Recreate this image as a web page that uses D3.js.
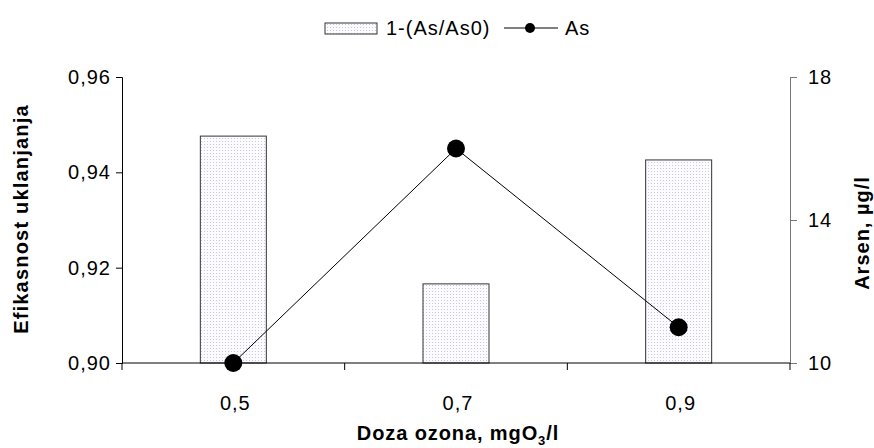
<!DOCTYPE html>
<html>
<head>
<meta charset="utf-8">
<script src="https://cdn.jsdelivr.net/npm/d3@7"></script>
<style>
  body { margin: 0; background: #fff; }
  text { font-family: "Liberation Sans", Arial, sans-serif; }
</style>
</head>
<body>
<svg></svg>
<script>
let w = 874;
let h = 448;

// data
var doses = ["0,5", "0,7", "0,9"];
var efficiency = [0.9476, 0.9166, 0.9426];
var arsenic = [10.0, 16.0, 11.0];
var leftTicks = [0.9, 0.92, 0.94, 0.96];
var rightTicks = [10, 14, 18];

var svg = d3.select("svg").attr("width", w).attr("height", h);

var margin = { left: 122, right: 84, top: 77, bottom: 85 };
var x0 = margin.left, x1 = w - margin.right;
var y0 = h - margin.bottom, y1 = margin.top;

// scales
var x = d3.scaleBand().domain(doses).range([x0, x1]);
var yLeft = d3.scaleLinear().domain([0.9, 0.96]).range([y0, y1]);
var yRight = d3.scaleLinear().domain([10, 18]).range([y0, y1]);

// dotted fill pattern
var defs = svg.append("defs");
var pat = defs.append("pattern")
  .attr("id", "dots")
  .attr("width", 3).attr("height", 3)
  .attr("patternUnits", "userSpaceOnUse");
pat.append("rect").attr("width", 3).attr("height", 3).attr("fill", "#fcfbff");
pat.append("rect").attr("width", 1).attr("height", 1).attr("fill", "#cdc6e2");

// bars
var barW = 66;
svg.append("g")
  .selectAll("rect")
  .data(efficiency)
  .enter()
  .append("rect")
  .attr("x", (d, i) => x(doses[i]) + x.bandwidth() / 2 - barW / 2)
  .attr("y", d => yLeft(d))
  .attr("width", barW)
  .attr("height", d => y0 - yLeft(d))
  .attr("fill", "url(#dots)")
  .attr("stroke", "#333")
  .attr("stroke-width", 1);

// left axis
var gl = svg.append("g")
  .attr("transform", "translate(" + x0 + ",0)")
  .call(d3.axisLeft(yLeft).tickValues(leftTicks).tickSize(6).tickPadding(5)
    .tickFormat(d => d3.format(".2f")(d).replace(".", ",")));
gl.select(".domain").attr("stroke", "#000");
gl.selectAll("text").attr("font-size", 20).attr("letter-spacing", 1).attr("fill", "#000");

// right axis
var gr = svg.append("g")
  .attr("transform", "translate(" + x1 + ",0)")
  .call(d3.axisRight(yRight).tickValues(rightTicks).tickSize(7).tickPadding(11));
gr.select(".domain").attr("stroke", "#777");
gr.selectAll("line").attr("stroke", "#777");
gr.selectAll("text").attr("font-size", 20).attr("letter-spacing", 1).attr("fill", "#000");

// bottom axis
var gb = svg.append("g")
  .attr("transform", "translate(0," + y0 + ")");
gb.append("line")
  .attr("x1", x0).attr("x2", x1)
  .attr("stroke", "#000");
var tickPos = doses.map(d => x(d)).concat([x1]);
gb.selectAll("line.tk")
  .data(tickPos)
  .enter()
  .append("line")
  .attr("class", "tk")
  .attr("x1", d => d).attr("x2", d => d)
  .attr("y1", 0).attr("y2", 7)
  .attr("stroke", "#000");
gb.selectAll("text")
  .data(doses)
  .enter()
  .append("text")
  .attr("x", d => x(d) + x.bandwidth() / 2 + 2)
  .attr("y", 47)
  .attr("text-anchor", "middle")
  .attr("font-size", 20)
  .attr("letter-spacing", 1)
  .text(d => d);

// line series
var line = d3.line()
  .x((d, i) => x(doses[i]) + x.bandwidth() / 2)
  .y(d => yRight(d));
svg.append("path")
  .datum(arsenic)
  .attr("d", line)
  .attr("fill", "none")
  .attr("stroke", "#000")
  .attr("stroke-width", 1);
svg.append("g")
  .selectAll("circle")
  .data(arsenic)
  .enter()
  .append("circle")
  .attr("cx", (d, i) => x(doses[i]) + x.bandwidth() / 2)
  .attr("cy", d => yRight(d))
  .attr("r", 9)
  .attr("fill", "#000");

// axis titles
var xt = svg.append("text")
  .attr("x", 458)
  .attr("y", 440)
  .attr("text-anchor", "middle")
  .attr("font-size", 20)
  .attr("letter-spacing", 0.9)
  .attr("font-weight", "bold");
xt.append("tspan").text("Doza ozona, mgO");
xt.append("tspan").attr("font-size", 13).attr("dy", 5).text("3");
xt.append("tspan").attr("dy", -5).text("/l");

svg.append("text")
  .attr("transform", "translate(28,219) rotate(-90)")
  .attr("text-anchor", "middle")
  .attr("font-size", 20)
  .attr("letter-spacing", 1.2)
  .attr("font-weight", "bold")
  .text("Efikasnost uklanjanja");

svg.append("text")
  .attr("transform", "translate(869,233) rotate(-90)")
  .attr("text-anchor", "middle")
  .attr("font-size", 20)
  .attr("letter-spacing", 1)
  .attr("font-weight", "bold")
  .text("Arsen, µg/l");

// legend
var lg = svg.append("g");
lg.append("rect")
  .attr("x", 325).attr("y", 23).attr("width", 52).attr("height", 11)
  .attr("fill", "url(#dots)").attr("stroke", "#333");
lg.append("text").attr("x", 386).attr("y", 35).attr("font-size", 20)
  .attr("letter-spacing", 1).text("1-(As/As0)");
lg.append("line")
  .attr("x1", 504).attr("x2", 558).attr("y1", 28).attr("y2", 28)
  .attr("stroke", "#000");
lg.append("circle").attr("cx", 530).attr("cy", 28).attr("r", 5).attr("fill", "#000");
lg.append("text").attr("x", 565).attr("y", 35).attr("font-size", 20)
  .attr("letter-spacing", 1).text("As");
</script>
</body>
</html>
